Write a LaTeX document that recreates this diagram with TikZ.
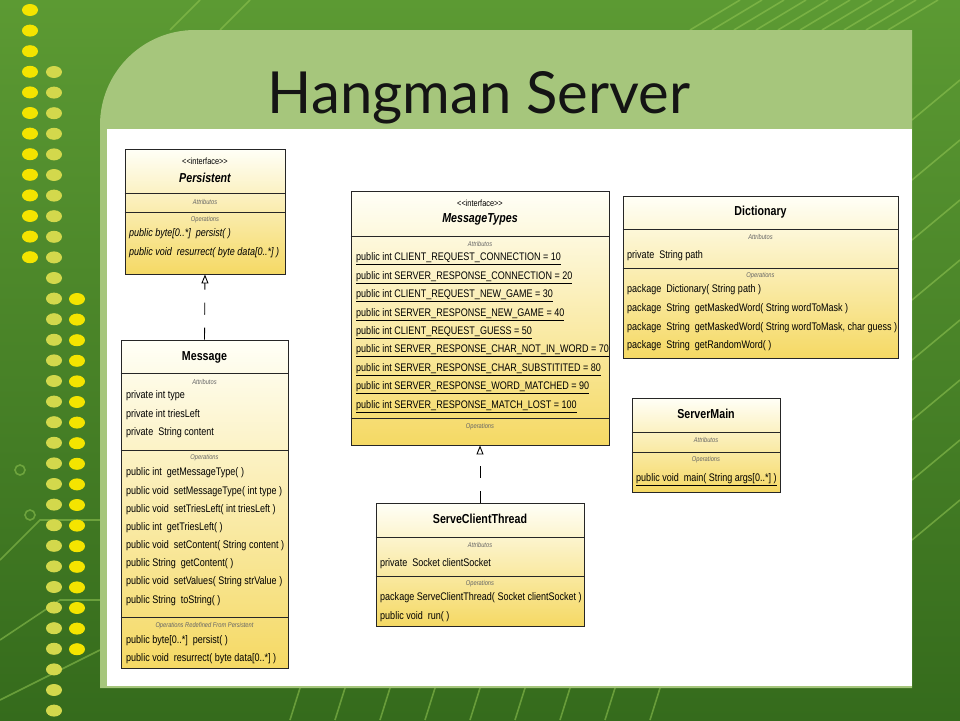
\documentclass[tikz,border=0pt]{standalone}
\usepackage{fontspec}
\setmainfont{Liberation Sans}[FakeStretch=0.82]
\newfontfamily\titlefont{Lato}
\usetikzlibrary{arrows.meta,positioning}

\definecolor{boardtop}{HTML}{5C9A33}
\definecolor{boardbot}{HTML}{356B1C}
\definecolor{trace}{HTML}{93C653}
\definecolor{dotyellow}{HTML}{F4E400}
\definecolor{dotpale}{HTML}{D3D84C}
\definecolor{panelgreen}{HTML}{A6C67C}
\definecolor{umltop}{HTML}{FFFFF7}
\definecolor{umlbot}{HTML}{F5D964}

\begin{document}
\begin{tikzpicture}[x=1pt, y=-1pt]
  \tikzstyle{cls} = [rectangle, draw=black!85, line width=0.9pt, top color=umltop, bottom color=umlbot, inner sep=0pt]
  \tikzstyle{sep} = [draw=black!85, line width=0.9pt]
  \tikzstyle{stereo} = [font=\fontsize{9}{10}\selectfont, inner sep=0pt]
  \tikzstyle{cname} = [font=\fontsize{13}{14}\selectfont\bfseries, inner sep=0pt]
  \tikzstyle{iname} = [font=\fontsize{13}{14}\selectfont\bfseries\itshape, inner sep=0pt]
  \tikzstyle{lbl} = [font=\fontsize{7}{8}\selectfont\itshape, text=black!60, inner sep=0pt]
  \tikzstyle{members} = [font=\fontsize{11}{18.3}\selectfont, align=left, anchor=north west, inner sep=0pt, execute at begin node=\strut]
  \tikzstyle{impl} = [line width=0.9pt, dash pattern=on 12pt off 13pt, -{Triangle[open, length=9pt, width=7pt]}]
  \tikzstyle{track} = [trace, line width=1.6pt, opacity=0.55]

  % board
  \useasboundingbox (0,0) rectangle (960,720);
  \fill[top color=boardtop, bottom color=boardbot] (0,0) rectangle (960,720);
  \foreach \k in {0,...,9}
    \draw[track] ({690+22*\k},30) -- ({740+22*\k},0);
  \foreach \k in {0,...,7}
    \draw[track] (912,{120+60*\k}) -- (960,{80+60*\k});
  \foreach \k in {0,...,8}
    \draw[track] ({300+45*\k},688) -- ({290+45*\k},720);
  \draw[track] (0,560) -- (40,520) -- (100,520);
  \draw[track] (0,640) -- (60,600) -- (100,600);
  \draw[track] (0,700) -- (100,650);
  \draw[track] (20,470) circle (5pt);
  \draw[track] (30,515) circle (5pt);
  \draw[track] (200,0) -- (170,30);
  \draw[track] (250,0) -- (220,30);
  \foreach \k in {0,...,12}
    \fill[dotyellow] (30,{10+20.6*\k}) ellipse [x radius=8pt, y radius=6pt];
  \foreach \k in {0,...,31}
    \fill[dotpale] (54,{72+20.6*\k}) ellipse [x radius=8pt, y radius=6pt];
  \foreach \k in {0,...,17}
    \fill[dotyellow] (77,{299+20.6*\k}) ellipse [x radius=8pt, y radius=6pt];

  % slide panel
  \fill[panelgreen] (100,688) [rounded corners=95pt] -- (100,30) [sharp corners] -- (912,30) -- (912,688) -- cycle;
  \fill[white] (107,129) rectangle (912,686);
  \node[font=\titlefont\fontsize{58}{58}\selectfont, anchor=base, text=black!92, inner sep=0pt] (title) at (479,113) {Hangman Server};

  % Persistent
  \node[cls, minimum width=160pt, minimum height=125pt] (Per) at (205,211.5) {};
  \draw[sep] (Per.west |- 0,193) -- (Per.east |- 0,193);
  \draw[sep] (Per.west |- 0,212) -- (Per.east |- 0,212);
  \begin{scope}
    \clip (Per.north west) rectangle (Per.south east);
    \node[stereo] (PerIf) at (205,161) {<{}<interface>{}>};
    \node[iname] (PerName) at (205,178) {Persistent};
    \node[lbl] (PerAttr) at (205,202) {Attributos};
    \node[lbl] (PerOps) at (205,220) {Operations};
    \node[members, font=\fontsize{11}{18.8}\selectfont\itshape] (PerOpList) at (129,228.5) {public byte[0..*]~ persist( )\\public void~ resurrect( byte data[0..*] )};
  \end{scope}

  % Message
  \node[cls, minimum width=167pt, minimum height=328pt] (Msg) at (204.5,504) {};
  \draw[sep] (Msg.west |- 0,373) -- (Msg.east |- 0,373);
  \draw[sep] (Msg.west |- 0,450) -- (Msg.east |- 0,450);
  \draw[sep] (Msg.west |- 0,617) -- (Msg.east |- 0,617);
  \begin{scope}
    \clip (Msg.north west) rectangle (Msg.south east);
    \node[cname] (MsgName) at (204.5,357) {Message};
    \node[lbl] (MsgAttr) at (204.5,382) {Attributos};
    \node[members] (MsgAttrList) at (126,390.7) {private int type\\private int triesLeft\\private~ String content};
    \node[lbl] (MsgOps) at (204.5,458) {Operations};
    \node[members, font=\fontsize{11}{18.15}\selectfont] (MsgOpList) at (126,467.8) {public int~ getMessageType( )\\public void~ setMessageType( int type )\\public void~ setTriesLeft( int triesLeft )\\public int~ getTriesLeft( )\\public void~ setContent( String content )\\public String~ getContent( )\\public void~ setValues( String strValue )\\public String~ toString( )};
    \node[lbl] (MsgRedef) at (204.5,626) {Operations Redefined From Persistent};
    \node[members, font=\fontsize{11}{18}\selectfont] (MsgRedefList) at (126,635.8) {public byte[0..*]~ persist( )\\public void~ resurrect( byte data[0..*] )};
  \end{scope}
  \draw[impl] (Msg.north) -- (Per.south);

  % MessageTypes
  \node[cls, minimum width=258pt, minimum height=254pt] (MT) at (480,318) {};
  \draw[sep] (MT.west |- 0,236) -- (MT.east |- 0,236);
  \draw[sep] (MT.west |- 0,418) -- (MT.east |- 0,418);
  \begin{scope}
    \clip (MT.north west) rectangle (MT.south east);
    \node[stereo] (MTIf) at (480,203) {<{}<interface>{}>};
    \node[iname] (MTName) at (480,219) {MessageTypes};
    \node[lbl] (MTAttr) at (480,244) {Attributos};
    \node[members, font=\fontsize{11}{18.4}\selectfont] (MTAttrList) at (356,252.7) {\underline{public int CLIENT\_REQUEST\_CONNECTION = 10}\\\underline{public int SERVER\_RESPONSE\_CONNECTION = 20}\\\underline{public int CLIENT\_REQUEST\_NEW\_GAME = 30}\\\underline{public int SERVER\_RESPONSE\_NEW\_GAME = 40}\\\underline{public int CLIENT\_REQUEST\_GUESS = 50}\\\underline{public int SERVER\_RESPONSE\_CHAR\_NOT\_IN\_WORD = 70}\\\underline{public int SERVER\_RESPONSE\_CHAR\_SUBSTITITED = 80}\\\underline{public int SERVER\_RESPONSE\_WORD\_MATCHED = 90}\\\underline{public int SERVER\_RESPONSE\_MATCH\_LOST = 100}};
    \node[lbl] (MTOps) at (480,427) {Operations};
  \end{scope}

  % ServeClientThread
  \node[cls, minimum width=208pt, minimum height=123pt] (SCT) at (480,564.5) {};
  \draw[sep] (SCT.west |- 0,537) -- (SCT.east |- 0,537);
  \draw[sep] (SCT.west |- 0,576) -- (SCT.east |- 0,576);
  \begin{scope}
    \clip (SCT.north west) rectangle (SCT.south east);
    \node[cname] (SCTName) at (480,519) {ServeClientThread};
    \node[lbl] (SCTAttr) at (480,545) {Attributos};
    \node[members] (SCTAttrList) at (380,553.7) {private~ Socket clientSocket};
    \node[lbl] (SCTOps) at (480,584) {Operations};
    \node[members, font=\fontsize{11}{19}\selectfont] (SCTOpList) at (380,592.8) {package ServeClientThread( Socket clientSocket )\\public void~ run( )};
  \end{scope}
  \draw[impl] (SCT.north) -- (MT.south);

  % Dictionary
  \node[cls, minimum width=275pt, minimum height=162pt] (Dic) at (760.5,277) {};
  \draw[sep] (Dic.west |- 0,229) -- (Dic.east |- 0,229);
  \draw[sep] (Dic.west |- 0,268) -- (Dic.east |- 0,268);
  \begin{scope}
    \clip (Dic.north west) rectangle (Dic.south east);
    \node[cname] (DicName) at (760.5,212) {Dictionary};
    \node[lbl] (DicAttr) at (760.5,237) {Attributos};
    \node[members] (DicAttrList) at (627,245.7) {private~ String path};
    \node[lbl] (DicOps) at (760.5,276) {Operations};
    \node[members, font=\fontsize{11}{18.6}\selectfont] (DicOpList) at (627,284.7) {package~ Dictionary( String path )\\package~ String~ getMaskedWord( String wordToMask )\\package~ String~ getMaskedWord( String wordToMask, char guess )\\package~ String~ getRandomWord( )};
  \end{scope}

  % ServerMain
  \node[cls, minimum width=148pt, minimum height=94pt] (SM) at (706,445) {};
  \draw[sep] (SM.west |- 0,432) -- (SM.east |- 0,432);
  \draw[sep] (SM.west |- 0,452) -- (SM.east |- 0,452);
  \begin{scope}
    \clip (SM.north west) rectangle (SM.south east);
    \node[cname] (SMName) at (706,414) {ServerMain};
    \node[lbl] (SMAttr) at (706,440) {Attributos};
    \node[lbl] (SMOps) at (706,460) {Operations};
    \node[members] (SMOpList) at (636,468.7) {\underline{public void~ main( String args[0..*] )}};
  \end{scope}
\end{tikzpicture}
\end{document}
